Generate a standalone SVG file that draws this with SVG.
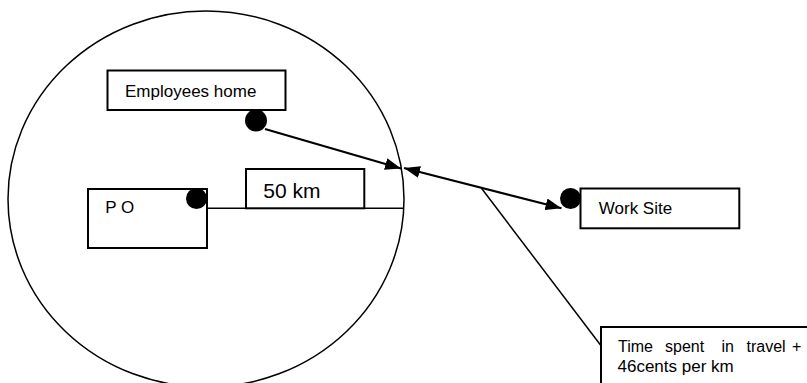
<svg xmlns="http://www.w3.org/2000/svg" width="807" height="383" viewBox="0 0 807 383">
  <style>
    .box { fill: #fff; stroke: #000; stroke-width: 2; }
    .lbl { font-family: "Liberation Sans", Arial, sans-serif; font-size: 17px; fill: #000; }
    .thin { fill: none; stroke: #000; stroke-width: 1.5; }
    .arrow { fill: none; stroke: #000; stroke-width: 2.2; }
    .dot { fill: #000; }
  </style>
  <defs>
    <marker id="head" viewBox="0 0 16 12" refX="16" refY="6" markerWidth="16" markerHeight="12" markerUnits="userSpaceOnUse" orient="auto-start-reverse">
      <path d="M0,0 L16,6 L0,12 Z" fill="#000"/>
    </marker>
  </defs>

  <!-- 50 km service radius -->
  <ellipse id="radius" cx="206" cy="199" rx="198" ry="188" class="thin"/>

  <g id="connectors">
    <!-- PO to edge of radius -->
    <line x1="207" y1="208.3" x2="404" y2="208.3" class="thin"/>
    <!-- home to radius edge -->
    <line x1="265" y1="129" x2="401" y2="168.5" class="arrow" marker-end="url(#head)"/>
    <!-- radius edge to work site -->
    <line x1="404" y1="168" x2="561.5" y2="208.3" class="arrow" marker-start="url(#head)" marker-end="url(#head)"/>
    <!-- callout leader -->
    <line x1="481.5" y1="188.3" x2="600.5" y2="345" class="thin"/>
  </g>

  <g id="employees-home">
    <rect x="107.5" y="70.5" width="178" height="39.5" class="box"/>
    <text x="125" y="96.5" class="lbl">Employees home</text>
    <circle cx="256" cy="120.5" r="11" class="dot"/>
  </g>

  <g id="po">
    <rect x="88" y="189" width="119" height="59" class="box"/>
    <text x="105.3" y="213.3" class="lbl">P O</text>
    <circle cx="196.5" cy="198.5" r="10.5" class="dot"/>
  </g>

  <g id="distance">
    <rect x="246" y="169" width="118.3" height="39.3" class="box"/>
    <text x="263.3" y="197.7" class="lbl" style="font-size:21px">50 km</text>
  </g>

  <g id="work-site">
    <rect x="580.5" y="188.5" width="158.8" height="39.8" class="box"/>
    <text x="598.8" y="214" class="lbl">Work Site</text>
    <circle cx="570.5" cy="198.5" r="10.5" class="dot"/>
  </g>

  <g id="travel-cost">
    <rect x="601" y="327" width="220" height="70" class="box"/>
    <!-- justified first line -->
    <text y="352" class="lbl" style="font-size:16px"><tspan x="618">Time</tspan><tspan x="665">spent</tspan><tspan x="721.5">in</tspan><tspan x="746.5">travel</tspan><tspan x="792">+</tspan></text>
    <text x="617.5" y="372" class="lbl">46cents per km</text>
  </g>
</svg>
